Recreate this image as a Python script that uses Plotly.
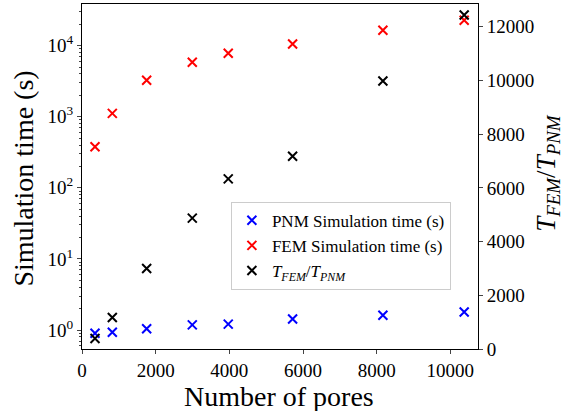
import plotly.graph_objects as go

# Data
n_pores = [353, 823, 1755, 2994, 3970, 5717, 8168, 10375]
pnm_time = [0.90, 0.93, 1.04, 1.18, 1.21, 1.43, 1.61, 1.79]
fem_time = [378, 1115, 3250, 5820, 7800, 10520, 16440, 22770]
ratio = [394, 1175, 2998, 4873, 6335, 7179, 9980, 12435]

left_tickvals = [1, 10, 100, 1000, 10000]
left_ticktext = ["10<sup>0</sup>", "10<sup>1</sup>", "10<sup>2</sup>", "10<sup>3</sup>", "10<sup>4</sup>"]
x_tickvals = [0, 2000, 4000, 6000, 8000, 10000]
x_ticktext = ["0", "2000", "4000", "6000", "8000", "10000"]
right_tickvals = [0, 2000, 4000, 6000, 8000, 10000, 12000]
right_ticktext = ["0", "2000", "4000", "6000", "8000", "10000", "12000"]

FONT = "Liberation Serif"
ratio_label = "<i>T</i><sub><i>FEM</i></sub>/<i>T</i><sub><i>PNM</i></sub>"

fig = go.Figure()
mk = dict(symbol="x-thin-open", size=9, line=dict(width=2))
fig.add_trace(go.Scatter(x=n_pores, y=pnm_time, mode="markers", name="PNM Simulation time (s)",
                         marker=dict(**mk, color="#0000ff", line_color="#0000ff")))
fig.add_trace(go.Scatter(x=n_pores, y=fem_time, mode="markers", name="FEM Simulation time (s)",
                         marker=dict(**mk, color="#ff0000", line_color="#ff0000")))
fig.add_trace(go.Scatter(x=n_pores, y=ratio, mode="markers", name=ratio_label, yaxis="y2",
                         marker=dict(**mk, color="black", line_color="black")))

fig.update_layout(
    width=566, height=411,
    margin=dict(l=82, r=88, t=4, b=62, autoexpand=False),
    plot_bgcolor="white", paper_bgcolor="white",
    font=dict(family=FONT, color="black", size=18),
    showlegend=True,
    legend=dict(x=0.376, y=0.427, xanchor="left", yanchor="top",
                bgcolor="rgba(255,255,255,0.8)", bordercolor="#cccccc", borderwidth=1,
                font=dict(family=FONT, size=17), itemwidth=30, tracegroupgap=0),
    xaxis=dict(range=[0, 10750], tickvals=x_tickvals, ticktext=x_ticktext, ticks="outside",
               ticklen=4, tickwidth=1, automargin=False,
               showline=True, linecolor="black", linewidth=1, mirror=True, showgrid=False,
               zeroline=False, tickfont=dict(size=19)),
    yaxis=dict(type="log", range=[-0.267, 4.585], tickvals=left_tickvals, ticktext=left_ticktext,
               ticks="outside", ticklen=4, tickwidth=1, automargin=False,
               minor=dict(ticks="outside", ticklen=2, tickwidth=1, dtick="D1", showgrid=False),
               showline=True, linecolor="black", linewidth=1, showgrid=False, zeroline=False,
               tickfont=dict(size=19)),
    yaxis2=dict(overlaying="y", side="right", range=[0, 12845], tickvals=right_tickvals,
                ticktext=right_ticktext, automargin=False,
                ticks="outside", ticklen=4, tickwidth=1, showline=True, linecolor="black",
                linewidth=1, showgrid=False, zeroline=False, tickfont=dict(size=19)),
    annotations=[
        dict(text="Number of pores", xref="paper", yref="paper", x=0.498, y=-0.137,
             xanchor="center", yanchor="middle", showarrow=False, font=dict(size=28)),
        dict(text="Simulation time (s)", xref="paper", yref="paper", x=-0.1465, y=0.494,
             xanchor="center", yanchor="middle", showarrow=False, textangle=-90,
             font=dict(size=28)),
        dict(text=ratio_label, xref="paper", yref="paper", x=1.176, y=0.51,
             xanchor="center", yanchor="middle", showarrow=False, textangle=-90,
             font=dict(size=27)),
    ],
)

fig.write_html("out.html", post_script="document.body.style.margin='0';",
               config={"displayModeBar": False})
